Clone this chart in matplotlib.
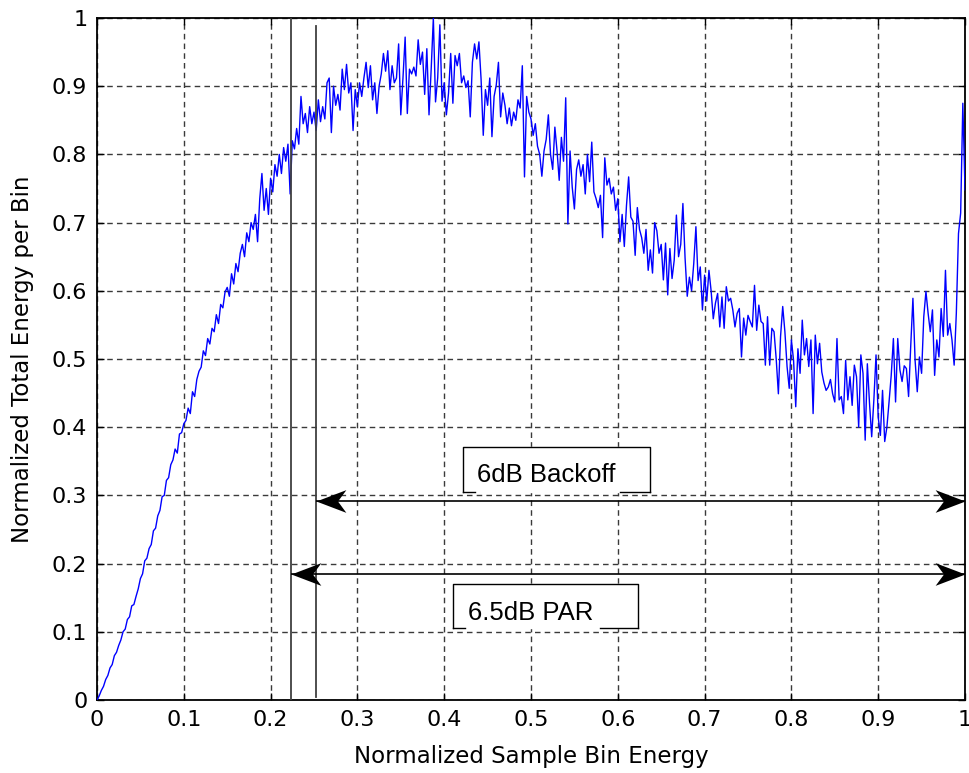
import numpy as np
import matplotlib
matplotlib.use("Agg")
import matplotlib.pyplot as plt
from matplotlib.path import Path

# normalized total energy per bin (step 0.0025 in bin energy)
energy = [
    0.000, 0.006, 0.014, 0.020, 0.030, 0.036, 0.047, 0.052, 0.065, 0.070, 0.080, 0.088, 0.100, 0.104, 0.118, 0.122, 0.138, 0.140, 0.152, 0.163,
    0.178, 0.185, 0.204, 0.208, 0.222, 0.228, 0.248, 0.252, 0.270, 0.278, 0.298, 0.300, 0.322, 0.326, 0.345, 0.352, 0.368, 0.362, 0.390, 0.392,
    0.405, 0.410, 0.428, 0.420, 0.452, 0.445, 0.470, 0.482, 0.488, 0.512, 0.505, 0.530, 0.522, 0.545, 0.540, 0.565, 0.552, 0.580, 0.575, 0.598,
    0.605, 0.592, 0.625, 0.610, 0.640, 0.628, 0.655, 0.668, 0.650, 0.685, 0.672, 0.700, 0.690, 0.712, 0.672, 0.735, 0.772, 0.718, 0.750, 0.712,
    0.765, 0.745, 0.785, 0.768, 0.800, 0.772, 0.810, 0.790, 0.815, 0.742, 0.820, 0.808, 0.838, 0.815, 0.885, 0.845, 0.860, 0.832, 0.870, 0.845,
    0.862, 0.835, 0.880, 0.848, 0.870, 0.852, 0.905, 0.912, 0.832, 0.900, 0.872, 0.888, 0.865, 0.925, 0.895, 0.932, 0.890, 0.905, 0.835, 0.895,
    0.870, 0.905, 0.885, 0.912, 0.935, 0.898, 0.930, 0.880, 0.905, 0.860, 0.900, 0.918, 0.948, 0.922, 0.952, 0.895, 0.930, 0.905, 0.912, 0.962,
    0.858, 0.912, 0.972, 0.860, 0.925, 0.918, 0.928, 0.915, 0.968, 0.932, 0.950, 0.888, 0.955, 0.858, 0.925, 1.000, 0.877, 0.912, 0.990, 0.878,
    0.905, 0.858, 0.890, 0.948, 0.875, 0.945, 0.930, 0.948, 0.905, 0.915, 0.898, 0.908, 0.855, 0.935, 0.962, 0.940, 0.965, 0.910, 0.828, 0.895,
    0.872, 0.912, 0.826, 0.885, 0.902, 0.935, 0.855, 0.890, 0.872, 0.845, 0.868, 0.842, 0.862, 0.850, 0.880, 0.868, 0.930, 0.767, 0.885, 0.862,
    0.852, 0.828, 0.845, 0.812, 0.800, 0.768, 0.805, 0.822, 0.858, 0.800, 0.778, 0.840, 0.805, 0.762, 0.825, 0.790, 0.883, 0.698, 0.805, 0.752,
    0.720, 0.778, 0.792, 0.768, 0.785, 0.742, 0.800, 0.760, 0.818, 0.745, 0.735, 0.722, 0.740, 0.678, 0.795, 0.755, 0.765, 0.742, 0.752, 0.718,
    0.735, 0.672, 0.712, 0.665, 0.725, 0.767, 0.708, 0.702, 0.652, 0.722, 0.690, 0.678, 0.655, 0.690, 0.630, 0.660, 0.626, 0.700, 0.688, 0.655,
    0.668, 0.616, 0.670, 0.594, 0.662, 0.618, 0.645, 0.711, 0.650, 0.668, 0.728, 0.648, 0.592, 0.620, 0.600, 0.640, 0.694, 0.615, 0.635, 0.572,
    0.623, 0.585, 0.630, 0.600, 0.559, 0.582, 0.596, 0.547, 0.591, 0.545, 0.606, 0.585, 0.589, 0.572, 0.547, 0.567, 0.574, 0.503, 0.560, 0.535,
    0.564, 0.555, 0.547, 0.608, 0.542, 0.579, 0.555, 0.552, 0.491, 0.562, 0.491, 0.545, 0.540, 0.500, 0.449, 0.533, 0.577, 0.540, 0.489, 0.457,
    0.528, 0.498, 0.430, 0.515, 0.479, 0.557, 0.506, 0.530, 0.489, 0.528, 0.420, 0.535, 0.493, 0.523, 0.481, 0.465, 0.454, 0.459, 0.470, 0.449,
    0.437, 0.530, 0.440, 0.445, 0.420, 0.498, 0.440, 0.474, 0.432, 0.491, 0.474, 0.400, 0.506, 0.479, 0.381, 0.493, 0.435, 0.386, 0.440, 0.506,
    0.415, 0.388, 0.454, 0.379, 0.400, 0.437, 0.476, 0.530, 0.437, 0.530, 0.484, 0.467, 0.490, 0.486, 0.445, 0.520, 0.589, 0.498, 0.452, 0.503,
    0.479, 0.562, 0.599, 0.567, 0.540, 0.572, 0.476, 0.528, 0.503, 0.574, 0.533, 0.630, 0.535, 0.552, 0.528, 0.491, 0.567, 0.684, 0.714, 0.875,
    0.748,
]
bin_energy = np.linspace(0, 1, len(energy))

# markers for PAR / backoff
par_start = 0.2235
backoff_start = 0.252
par_level = 0.185
backoff_level = 0.292

ticks = np.arange(0, 1.01, 0.1)
tick_labels = ["0", "0.1", "0.2", "0.3", "0.4", "0.5", "0.6", "0.7", "0.8", "0.9", "1"]

fig = plt.figure(figsize=(9.69, 7.73), dpi=100)
ax = fig.add_axes([97/969, 73/773, 868/969, 682/773])

ax.plot(bin_energy, energy, color=(0, 0, 1), lw=1.0, zorder=3)

ax.set_xlim(0, 1)
ax.set_ylim(0, 1)
ax.set_xticks(ticks)
ax.set_yticks(ticks)
ax.set_xticklabels(tick_labels)
ax.set_yticklabels(tick_labels)
ax.tick_params(direction="in", length=5, width=1, top=True, right=True,
               labelsize=16, pad=7)
for s in ax.spines.values():
    s.set_linewidth(1.3)
ax.grid(True, color="#3a3a3a", lw=1.0, linestyle=(0, (4, 3)))

ax.set_xlabel("Normalized Sample Bin Energy", fontsize=16.5, labelpad=11)
ax.set_ylabel("Normalized Total Energy per Bin", fontsize=16.5, labelpad=13)

# vertical markers
ax.axvline(par_start, color="#404040", lw=1.3, zorder=4)
ax.axvline(backoff_start, ymin=0.005, ymax=0.988, color="#404040", lw=1.3, zorder=4)

# MATLAB-like notched arrowheads (tip at the marker position)
head_r = Path([(0, 0), (-1, 0.38), (-0.72, 0), (-1, -0.38), (0, 0)],
              [Path.MOVETO, Path.LINETO, Path.LINETO, Path.LINETO, Path.CLOSEPOLY])
head_l = Path([(0, 0), (1, 0.38), (0.72, 0), (1, -0.38), (0, 0)],
              [Path.MOVETO, Path.LINETO, Path.LINETO, Path.LINETO, Path.CLOSEPOLY])

for start, level in [(backoff_start, backoff_level), (par_start, par_level)]:
    ax.plot([start, 1.0], [level, level], color="k", lw=1.2, zorder=5,
            solid_capstyle="butt")
    ax.plot([1.0], [level], marker=head_r, markersize=43, color="k",
            markeredgewidth=0, linestyle="none", zorder=6, clip_on=False)
    ax.plot([start], [level], marker=head_l, markersize=43, color="k",
            markeredgewidth=0, linestyle="none", zorder=6, clip_on=False)

# label boxes (MATLAB style, bottom edge interrupted by the text)
def label_box(x0, x1, y0, y1, gap0, gap1, text, tx, ty):
    ax.fill([x0, x1, x1, x0], [y0, y0, y1, y1], color="white", zorder=5)
    ax.plot([x0, x0, x1, x1], [y0, y1, y1, y0], color="k", lw=1.0, zorder=6)
    ax.plot([x0, gap0], [y0, y0], color="k", lw=1.0, zorder=6)
    ax.plot([gap1, x1], [y0, y0], color="k", lw=1.0, zorder=6)
    ax.text(tx, ty, text, fontsize=18.5, family="Liberation Sans",
            va="baseline", ha="left", zorder=7)

label_box(0.4217, 0.6371, 0.305, 0.371, 0.436, 0.602,
          "6dB Backoff", 0.438, 0.3196)
label_box(0.410, 0.623, 0.1056, 0.170, 0.424, 0.580,
          "6.5dB PAR", 0.4275, 0.1173)

plt.savefig("out.png", dpi=100)
plt.close()
